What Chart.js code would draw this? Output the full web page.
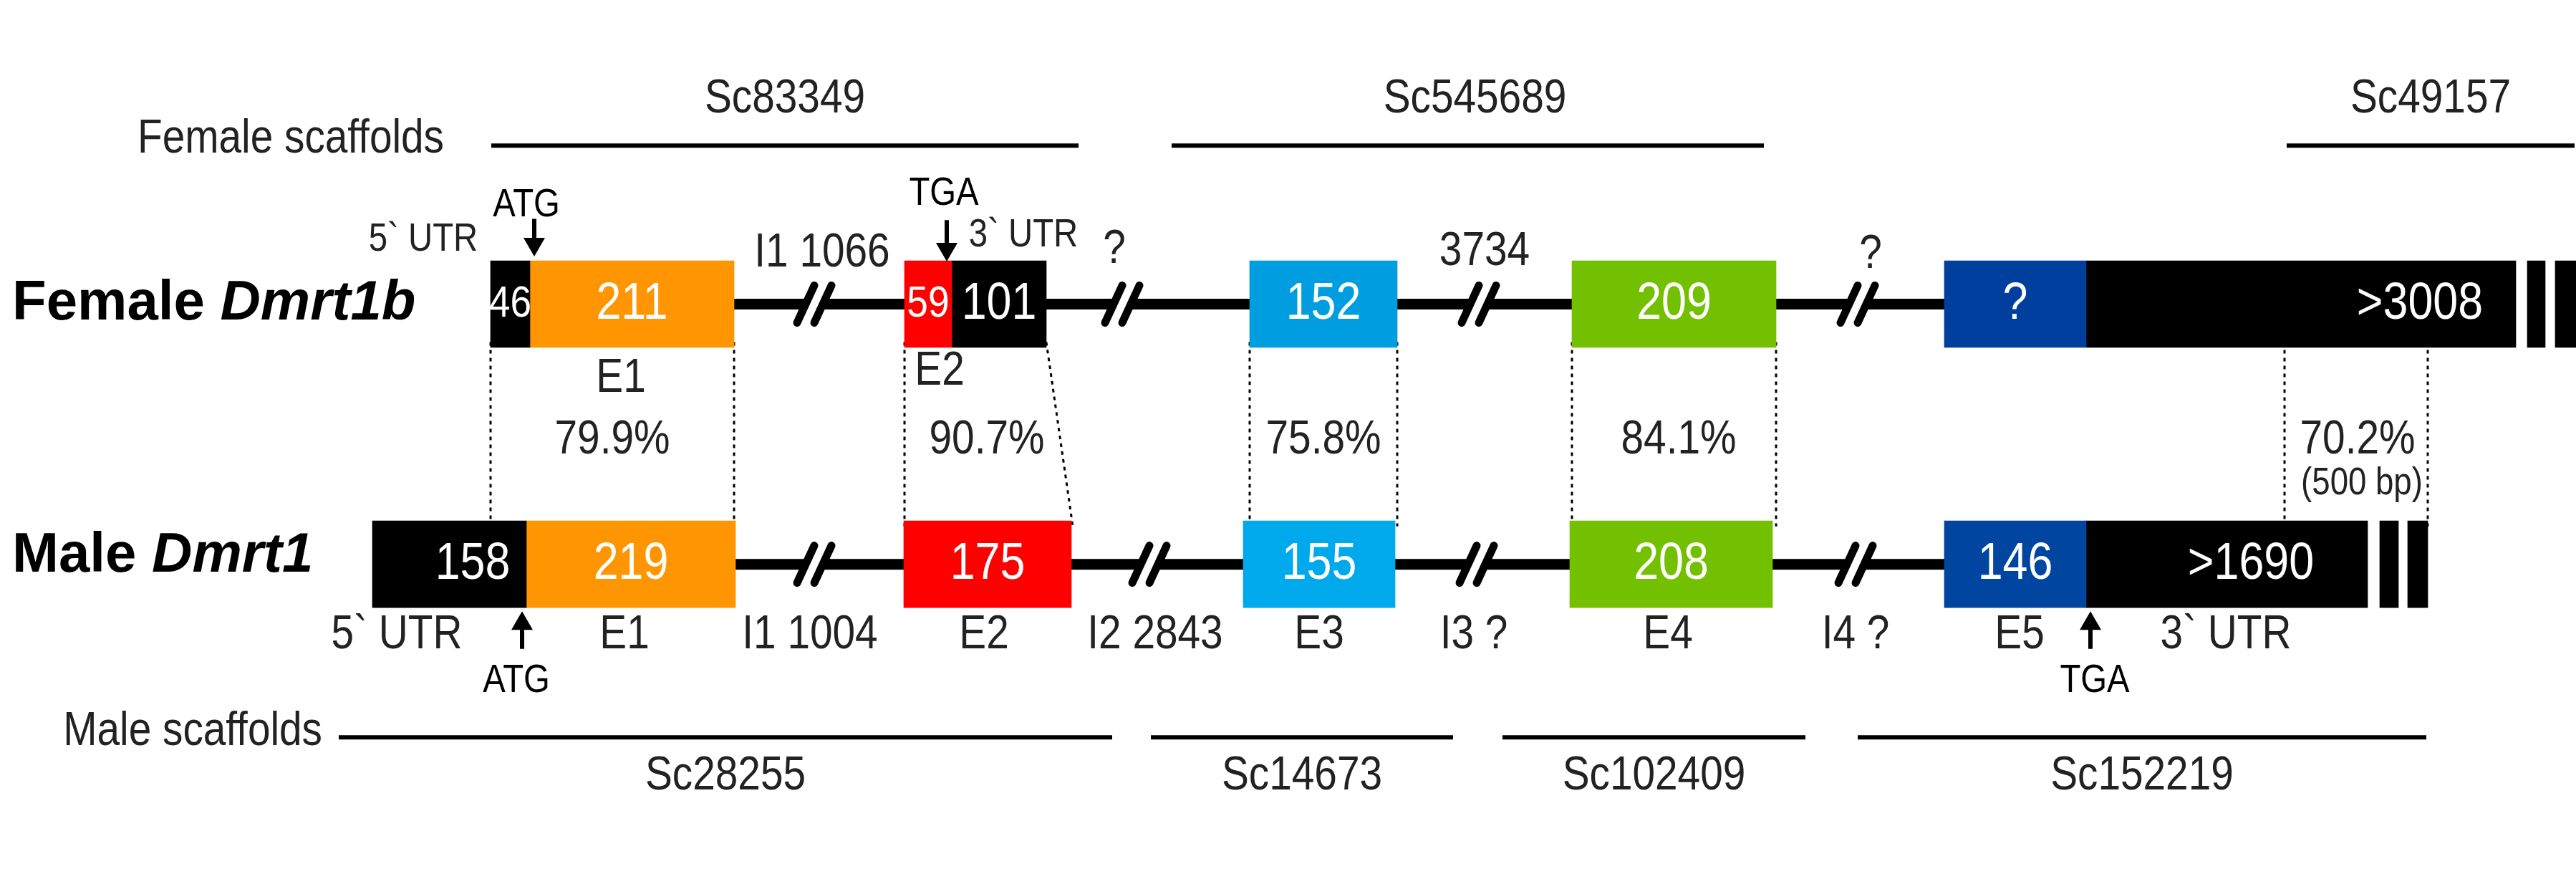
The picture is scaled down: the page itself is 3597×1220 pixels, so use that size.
<!DOCTYPE html>
<html><head><meta charset="utf-8">
<script src="https://cdn.jsdelivr.net/npm/chart.js@4/dist/chart.umd.min.js"></script>
<style>html,body{margin:0;padding:0;background:#fff}#c{display:block}</style>
</head><body>
<div style="width:3597px;height:1220px"><canvas id="c"></canvas></div>
<script>
// ---- data (diagram coordinates) ----
const femaleStart = [685, 740, 1263, 1329, 1745, 2195, 2715, 2913, 3529, 3568];
const femaleEnd   = [740, 1025, 1329, 1461, 1951, 2480, 2913, 3513, 3554, 3597];
const femaleText  = ['46', '211', '59', '101', '152', '209', '?', '>3008', '', ''];
const maleStart = [520, 735, 1262, 1736, 2192, 2715, 2913, 3323, 3362];
const maleEnd   = [735, 1027, 1496, 1948, 2475, 2913, 3306, 3349, 3390];
const maleText  = ['158', '219', '175', '155', '208', '146', '>1690', '', ''];
const femaleIntrons = [[1025, 1263], [1461, 1745], [1951, 2195], [2480, 2715]];
const maleIntrons   = [[1027, 1262], [1496, 1736], [1948, 2192], [2475, 2715]];
const femaleBreaks = [1137, 1567, 2065, 2594];
const maleBreaks   = [1137, 1605, 2062, 2591];
const femaleScaffolds = [[686, 1506, 'Sc83349'], [1636, 2463, 'Sc545689'], [3193, 3595, 'Sc49157']];
const maleScaffolds   = [[473, 1553, 'Sc28255'], [1607, 2029, 'Sc14673'], [2098, 2521, 'Sc102409'], [2594, 3388, 'Sc152219']];
const identity = ['79.9%', '90.7%', '75.8%', '84.1%', '70.2%'];
const identityX = [855, 1378, 1848, 2344, 3292];
const connectors = [[685, 685], [1025, 1025], [1263, 1263], [1461, 1498], [1745, 1745], [1951, 1951], [2195, 2195], [2480, 2480], [3190, 3190], [3390, 3390]];
const femaleTopLabels = [['5` UTR', 591, 296], ['I1 1066', 1148, 317], ['3` UTR', 1429, 289], ['?', 1556, 311], ['3734', 2073, 315], ['?', 2612, 319]];
const maleBottomLabels = [['5` UTR', 554], ['E1', 872], ['I1 1004', 1131], ['E2', 1374], ['I2 2843', 1613], ['E3', 1842], ['I3 ?', 2058], ['E4', 2329], ['I4 ?', 2591], ['E5', 2820], ['3` UTR', 3108]];

// ---- styles ----
const femaleColors = ['#000', '#FF9500', '#FF0000', '#000', '#009EE0', '#72C000', '#003F9E', '#000', '#000', '#000'];
const maleColors   = ['#000', '#FF9500', '#FF0000', '#00A8EC', '#72C000', '#0046A0', '#000', '#000', '#000'];
const FY = 398, MY = 813, BOX = 121;
const F = 'Liberation Sans, Arial, sans-serif';
const SQ = 0.86;

const datasets = [];
femaleStart.forEach((s, i) => datasets.push({data: [{x: [s, femaleEnd[i]], y: FY}], backgroundColor: femaleColors[i], barThickness: BOX, txt: femaleText[i]}));
maleStart.forEach((s, i) => datasets.push({data: [{x: [s, maleEnd[i]], y: MY}], backgroundColor: maleColors[i], barThickness: BOX, txt: maleText[i]}));

function text(ctx, s, x, y, size, color, align) {
  ctx.save();
  ctx.translate(x, y); ctx.scale(SQ, 1);
  ctx.font = Math.round(size / SQ * 0.95) + 'px ' + F; ctx.fillStyle = color || '#222'; ctx.textAlign = align || 'center'; ctx.textBaseline = 'middle';
  ctx.fillText(s, 0, 0);
  ctx.restore();
}
function arrow(ctx, x, y1, y2) {
  ctx.strokeStyle = '#000'; ctx.fillStyle = '#000'; ctx.lineWidth = 6;
  const d = y2 > y1 ? 1 : -1;
  ctx.beginPath(); ctx.moveTo(x, y1); ctx.lineTo(x, y2 - d * 20); ctx.stroke();
  ctx.beginPath(); ctx.moveTo(x - 15, y2 - d * 26); ctx.lineTo(x + 15, y2 - d * 26); ctx.lineTo(x, y2); ctx.closePath(); ctx.fill();
}
const plugin = {
  id: 'gene',
  beforeDatasetsDraw(chart) {
    const ctx = chart.ctx, xs = chart.scales.x, ys = chart.scales.y;
    ctx.save();
    ctx.strokeStyle = '#000'; ctx.lineWidth = 15; ctx.lineCap = 'round';
    [[femaleIntrons, FY], [maleIntrons, MY]].forEach(([arr, y]) => arr.forEach(([a, b]) => {
      ctx.beginPath(); ctx.moveTo(xs.getPixelForValue(a), ys.getPixelForValue(y)); ctx.lineTo(xs.getPixelForValue(b), ys.getPixelForValue(y)); ctx.stroke();
    }));
    [[femaleBreaks, FY], [maleBreaks, MY]].forEach(([arr, y]) => arr.forEach(bx => {
      const px = xs.getPixelForValue(bx), py = ys.getPixelForValue(y);
      ctx.fillStyle = '#fff';
      ctx.beginPath(); ctx.moveTo(px - 24, py + 26); ctx.lineTo(px - 4, py + 26); ctx.lineTo(px + 24, py - 26); ctx.lineTo(px + 4, py - 26); ctx.closePath(); ctx.fill();
      ctx.strokeStyle = '#000'; ctx.lineWidth = 11;
      [-12, 12].forEach(o => { ctx.beginPath(); ctx.moveTo(px + o - 12, py + 26); ctx.lineTo(px + o + 12, py - 26); ctx.stroke(); });
    }));
    ctx.lineCap = 'butt'; ctx.lineWidth = 3; ctx.setLineDash([5, 6]); ctx.strokeStyle = '#000';
    connectors.forEach(([a, b]) => {
      ctx.beginPath(); ctx.moveTo(xs.getPixelForValue(a), ys.getPixelForValue(FY + BOX / 2)); ctx.lineTo(xs.getPixelForValue(b), ys.getPixelForValue(MY - BOX / 2)); ctx.stroke();
    });
    ctx.setLineDash([]);
    ctx.restore();
  },
  afterDatasetsDraw(chart) {
    const ctx = chart.ctx, xs = chart.scales.x, ys = chart.scales.y;
    const X = v => xs.getPixelForValue(v), Y = v => ys.getPixelForValue(v);
    ctx.save();
    chart.data.datasets.forEach(ds => {
      if (!ds.txt) return;
      const d = ds.data[0];
      let cx = (X(d.x[0]) + X(d.x[1])) / 2;
      if (ds.txt === '>3008') cx = X(3379);
      if (ds.txt === '>1690') cx = X(3143);
      if (ds.txt === '158') cx = X(660);
      const f = ds.txt.length <= 2 && ds.txt !== '?' ? 56 : 66;
      text(ctx, ds.txt, cx, Y(d.y), f, '#fff');
    });
    ctx.strokeStyle = '#000'; ctx.lineWidth = 6;
    femaleScaffolds.forEach(([a, b, s]) => {
      ctx.beginPath(); ctx.moveTo(X(a), Y(145)); ctx.lineTo(X(b), Y(145)); ctx.stroke();
      text(ctx, s, (X(a) + X(b)) / 2 + (s === 'Sc545689' ? 10 : 0), Y(72), 60);
    });
    maleScaffolds.forEach(([a, b, s]) => {
      ctx.beginPath(); ctx.moveTo(X(a), Y(1089)); ctx.lineTo(X(b), Y(1089)); ctx.stroke();
      text(ctx, s, (X(a) + X(b)) / 2, Y(1151), 60);
    });
    text(ctx, 'Female scaffolds', X(620), Y(136), 60, '#222', 'right');
    text(ctx, 'Male scaffolds', X(450), Y(1081), 60, '#222', 'right');
    ctx.textBaseline = 'middle'; ctx.textAlign = 'left'; ctx.fillStyle = '#000';
    ctx.font = 'bold 78px ' + F; ctx.fillText('Female ', X(17), Y(398));
    let w = ctx.measureText('Female ').width;
    ctx.font = 'italic bold 78px ' + F; ctx.fillText('Dmrt1b', X(17) + w, Y(398));
    ctx.font = 'bold 78px ' + F; ctx.fillText('Male ', X(17), Y(800));
    w = ctx.measureText('Male ').width;
    ctx.font = 'italic bold 78px ' + F; ctx.fillText('Dmrt1', X(17) + w, Y(800));
    femaleTopLabels.forEach(([s, x, y]) => text(ctx, s, X(x), Y(y), s.includes('UTR') ? 50 : 60));
    text(ctx, 'ATG', X(735), Y(241), 50, '#000');
    arrow(ctx, X(746), Y(262), Y(322));
    text(ctx, 'TGA', X(1318), Y(222), 50, '#000');
    arrow(ctx, X(1322), Y(264), Y(330));
    text(ctx, 'E1', X(867), Y(517), 60);
    text(ctx, 'E2', X(1312), Y(506), 60);
    identity.forEach((s, i) => text(ctx, s, X(identityX[i]), Y(615), 60));
    text(ctx, '(500 bp)', X(3298), Y(685), 48);
    maleBottomLabels.forEach(([s, x]) => text(ctx, s, X(x), Y(926), 60));
    arrow(ctx, X(729), Y(948), Y(888));
    text(ctx, 'ATG', X(721), Y(1000), 50, '#000');
    arrow(ctx, X(2919), Y(948), Y(888));
    text(ctx, 'TGA', X(2925), Y(1000), 50, '#000');
    ctx.restore();
  }
};
new Chart(document.getElementById('c'), {
  type: 'bar',
  data: {datasets},
  options: {
    indexAxis: 'y', responsive: true, maintainAspectRatio: false, animation: false,
    layout: {padding: 0},
    plugins: {legend: {display: false}, tooltip: {enabled: false}},
    scales: {
      x: {type: 'linear', min: 0, max: 3597, display: false},
      y: {type: 'linear', min: 0, max: 1220, reverse: true, display: false}
    },
    datasets: {bar: {grouped: false, borderWidth: 0, borderSkipped: false}}
  },
  plugins: [plugin]
});
</script>
</body></html>
